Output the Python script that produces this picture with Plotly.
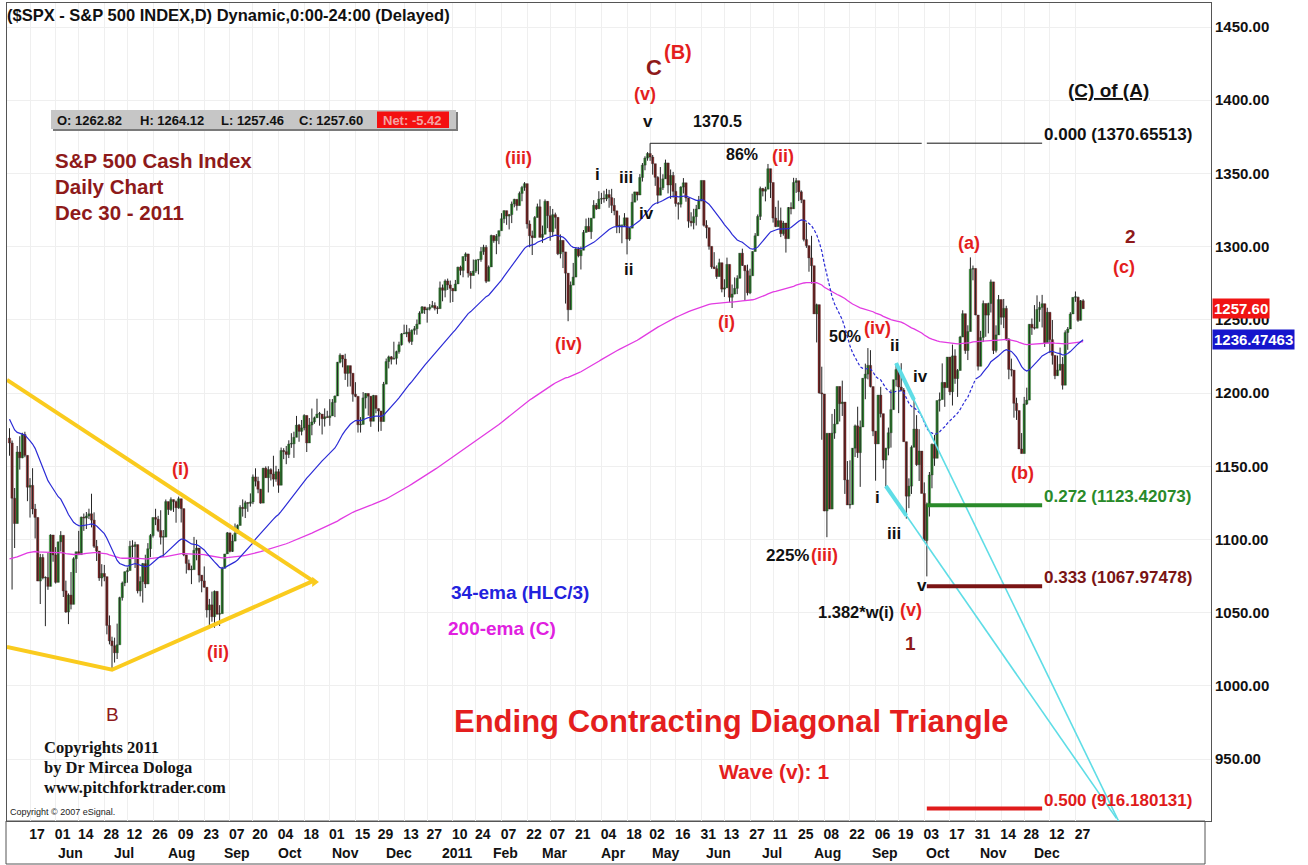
import numpy as np
import pandas as pd
import plotly.graph_objects as go

# ---------------- DATA ----------------
holidays = ["2010-05-31", "2010-07-05", "2010-09-06", "2010-11-25", "2010-12-24",
            "2011-01-17", "2011-02-21", "2011-04-22", "2011-05-30", "2011-07-04",
            "2011-09-05", "2011-11-24", "2011-12-26", "2012-01-02", "2012-01-16"]
start_date = "2010-05-05"
end_date = "2011-12-30"

first_open = 1169.24

closes = [
 # May 2010
 1165.87,1128.15,1110.88,1159.73,1155.79,1171.67,1157.44,1135.68,1136.94,1120.80,1115.05,1071.59,1087.69,1073.65,1074.03,1067.95,1103.06,1089.41,
 # Jun 2010
 1070.71,1098.38,1102.83,1064.88,1050.47,1062.00,1055.69,1086.84,1091.60,1089.63,1115.23,1114.61,1116.04,1117.51,1113.20,1095.31,1092.04,1073.69,1076.76,1074.57,1041.24,1030.71,
 # Jul 2010
 1027.37,1022.58,1028.06,1060.27,1070.25,1077.96,1078.75,1095.34,1095.17,1096.48,1064.88,1071.25,1083.48,1069.59,1093.67,1102.66,1115.01,1113.84,1106.13,1101.53,1101.60,
 # Aug 2010
 1125.86,1120.46,1127.24,1125.81,1121.64,1127.79,1121.06,1089.47,1083.61,1079.25,1079.38,1092.54,1094.16,1075.63,1071.69,1067.36,1051.87,1055.33,1047.22,1064.59,1048.92,1049.33,
 # Sep 2010
 1080.29,1090.10,1104.51,1091.84,1098.87,1104.18,1109.55,1121.90,1121.10,1125.07,1124.66,1125.59,1142.71,1139.78,1134.28,1124.83,1148.67,1142.16,1147.70,1144.73,1141.20,
 # Oct 2010
 1146.24,1137.03,1160.75,1159.97,1158.06,1165.15,1165.32,1169.77,1178.10,1173.81,1176.19,1184.71,1165.90,1178.17,1180.26,1183.08,1185.62,1185.64,1182.45,1183.78,1183.26,
 # Nov 2010
 1184.38,1193.57,1197.96,1221.06,1225.85,1223.25,1213.40,1218.71,1213.54,1199.21,1197.75,1178.34,1178.59,1196.69,1199.73,1197.84,1180.73,1198.35,1189.40,1187.76,1180.55,
 # Dec 2010
 1206.07,1221.53,1224.71,1223.12,1223.75,1228.28,1233.00,1240.40,1240.46,1241.59,1235.23,1242.87,1243.91,1247.08,1254.60,1258.84,1256.77,1257.54,1258.51,1259.78,1257.88,1257.64,
 # Jan 2011
 1271.87,1270.20,1276.56,1273.85,1271.50,1269.75,1274.48,1285.96,1283.76,1293.24,1295.02,1281.92,1280.26,1283.35,1290.84,1291.18,1296.63,1299.54,1276.34,1286.12,
 # Feb 2011
 1307.59,1304.03,1307.10,1310.87,1319.05,1324.57,1320.88,1321.87,1329.15,1332.32,1328.01,1336.32,1340.43,1343.01,1315.44,1307.40,1306.10,1319.88,1327.22,
 # Mar 2011
 1306.33,1308.44,1330.97,1321.15,1310.13,1321.82,1320.02,1295.11,1304.28,1296.39,1281.87,1256.88,1273.72,1279.21,1298.38,1293.77,1297.54,1309.66,1313.80,1310.19,1319.44,1328.26,1325.83,
 # Apr 2011
 1332.41,1332.87,1332.63,1335.54,1333.51,1328.17,1324.46,1314.16,1314.41,1314.52,1319.68,1305.14,1312.62,1330.36,1337.38,1335.25,1347.24,1355.66,1360.48,1363.61,
 # May 2011
 1361.22,1356.62,1347.32,1335.10,1340.20,1346.29,1357.16,1342.08,1348.65,1337.77,1329.47,1328.98,1340.68,1343.60,1333.27,1317.37,1316.28,1320.47,1325.69,1331.10,1345.20,
 # Jun 2011
 1314.55,1312.94,1300.16,1286.17,1284.94,1279.56,1289.00,1270.98,1271.83,1287.87,1265.42,1267.64,1271.50,1278.36,1295.52,1287.14,1283.50,1268.45,1280.10,1296.67,1307.41,1320.64,
 # Jul 2011
 1339.67,1337.88,1339.22,1353.22,1343.80,1319.49,1313.64,1317.72,1308.87,1316.14,1305.44,1326.73,1325.84,1343.80,1345.02,1337.43,1331.94,1304.89,1300.67,1292.28,
 # Aug 2011
 1286.94,1254.05,1260.34,1200.07,1199.38,1119.46,1172.53,1120.76,1172.64,1178.81,1204.49,1192.76,1193.89,1140.65,1123.53,1123.82,1162.35,1177.60,1159.27,1176.80,1210.08,1212.92,1218.89,
 # Sep 2011
 1204.42,1173.97,1165.24,1198.62,1185.90,1154.23,1162.27,1172.87,1188.68,1209.11,1216.01,1204.09,1202.09,1166.76,1129.56,1136.43,1162.95,1175.38,1151.06,1160.40,1131.42,
 # Oct 2011
 1099.23,1123.95,1144.03,1164.97,1155.46,1194.89,1195.54,1207.25,1203.66,1224.58,1200.86,1225.38,1209.88,1215.39,1238.25,1254.19,1229.05,1242.00,1284.59,1285.09,1253.30,
 # Nov 2011
 1218.28,1237.90,1261.15,1253.23,1261.12,1275.92,1229.10,1239.69,1263.85,1251.78,1257.81,1236.91,1216.13,1215.65,1192.98,1188.04,1161.79,1158.67,1192.55,1195.19,1246.96,
 # Dec 2011
 1244.58,1244.28,1257.08,1258.47,1261.01,1234.35,1255.19,1236.47,1225.73,1211.82,1215.75,1219.66,1205.35,1241.30,1243.72,1254.00,1265.33,1265.43,1249.64,1263.02,1257.60,
]

highs = [
 1175.95,1167.58,1135.13,1163.85,1170.48,1172.87,1173.57,1157.19,1141.88,1148.66,1124.27,1107.34,1090.16,1089.95,1074.75,1090.75,1103.52,1102.56,
 1094.77,1098.43,1105.67,1102.83,1071.86,1063.15,1077.74,1087.85,1091.60,1105.87,1115.59,1117.72,1118.74,1121.01,1131.23,1118.50,1099.64,1088.16,1083.11,1082.60,1071.75,1048.08,
 1033.58,1032.94,1042.50,1060.89,1071.25,1078.16,1080.78,1099.08,1099.46,1098.43,1095.06,1074.70,1083.94,1089.57,1097.50,1103.73,1115.01,1120.95,1116.11,1119.95,1106.44,
 1127.30,1125.44,1128.75,1126.56,1126.56,1129.24,1127.16,1114.63,1086.72,1086.25,1082.14,1101.73,1099.77,1092.75,1075.63,1081.58,1067.36,1059.38,1064.38,1065.15,1064.29,1055.14,
 1081.30,1090.10,1105.10,1102.60,1103.26,1110.88,1110.27,1123.35,1127.36,1126.46,1125.44,1131.47,1144.38,1148.59,1142.83,1134.56,1148.90,1149.92,1150.00,1148.63,1157.16,
 1150.30,1148.16,1162.76,1162.33,1163.87,1167.73,1172.58,1173.59,1184.38,1178.89,1181.60,1185.53,1178.64,1182.94,1189.43,1183.93,1196.14,1187.11,1183.80,1189.53,1187.88,
 1195.81,1195.88,1198.30,1221.25,1227.08,1224.57,1226.84,1218.75,1215.45,1212.99,1207.43,1197.75,1183.56,1200.65,1199.97,1198.94,1197.84,1198.74,1198.35,1189.40,1187.40,
 1207.61,1223.58,1225.57,1225.31,1235.05,1228.93,1235.06,1240.95,1246.73,1246.59,1244.25,1243.48,1245.81,1250.23,1255.82,1259.39,1258.59,1258.59,1260.77,1262.90,1261.93,1259.30,
 1276.17,1274.12,1277.63,1278.17,1276.83,1271.52,1277.25,1286.27,1286.99,1293.24,1296.06,1294.60,1283.32,1291.21,1291.26,1291.26,1299.74,1301.29,1301.02,1287.17,
 1308.15,1307.61,1308.60,1311.00,1322.85,1324.87,1324.57,1322.35,1330.79,1332.67,1330.58,1337.61,1341.50,1344.07,1338.91,1317.91,1310.91,1320.91,1329.38,
 1332.28,1314.39,1332.28,1331.08,1327.68,1325.74,1323.21,1315.72,1308.35,1301.33,1288.88,1280.91,1276.19,1288.88,1299.58,1299.58,1300.00,1311.34,1319.18,1319.74,1319.45,1331.74,1329.77,
 1337.85,1336.74,1338.21,1339.46,1338.80,1339.46,1333.16,1321.41,1321.35,1314.55,1322.88,1319.68,1312.70,1336.14,1337.49,1337.38,1349.55,1357.10,1361.71,1364.56,
 1370.58,1362.59,1355.66,1348.09,1354.36,1349.44,1359.44,1354.64,1352.67,1351.05,1343.33,1330.42,1341.30,1346.82,1342.00,1333.06,1323.48,1325.86,1328.51,1334.62,1345.20,
 1345.20,1318.03,1312.94,1300.16,1296.22,1287.21,1291.75,1289.00,1277.72,1292.50,1287.87,1274.11,1279.00,1280.42,1295.52,1298.61,1286.73,1287.72,1284.93,1296.80,1309.21,1321.97,
 1341.01,1340.12,1340.89,1356.48,1353.22,1343.31,1327.16,1331.48,1326.68,1317.57,1315.74,1327.04,1330.24,1347.00,1346.91,1344.32,1338.44,1330.77,1316.32,1300.17,
 1307.38,1286.56,1261.04,1260.34,1218.00,1199.38,1172.53,1172.64,1185.76,1189.04,1204.49,1204.49,1208.47,1193.89,1153.54,1154.06,1162.35,1178.47,1190.68,1181.23,1210.28,1220.10,1230.71,
 1229.29,1203.85,1173.97,1198.62,1204.23,1185.90,1162.59,1176.41,1202.38,1209.11,1220.06,1213.46,1220.39,1203.44,1166.76,1141.72,1164.19,1195.86,1184.90,1175.31,1160.40,
 1138.99,1125.19,1146.07,1165.55,1171.40,1194.91,1200.36,1220.25,1207.46,1224.61,1224.58,1233.10,1229.88,1216.44,1239.03,1256.55,1254.19,1246.28,1292.66,1287.08,1284.96,
 1253.21,1242.48,1263.21,1261.10,1261.70,1277.55,1275.92,1246.22,1266.98,1263.85,1264.25,1259.61,1237.39,1223.51,1215.62,1196.81,1187.48,1172.66,1197.35,1203.67,1247.11,
 1250.91,1260.08,1266.73,1262.34,1267.06,1260.87,1258.25,1255.10,1249.86,1225.73,1225.60,1231.04,1224.57,1242.82,1245.09,1255.22,1265.42,1269.37,1265.85,1263.54,1264.12,
]

lows = [
 1157.19,1065.79,1094.15,1122.27,1147.71,1155.43,1156.14,1126.14,1114.96,1117.20,1100.66,1071.58,1055.90,1072.70,1040.78,1065.59,1069.78,1084.78,
 1069.89,1072.03,1091.81,1060.70,1049.86,1042.17,1052.25,1058.24,1077.12,1089.30,1089.63,1105.87,1107.13,1113.93,1108.24,1094.18,1085.31,1071.72,1067.89,1071.45,1035.18,1028.33,
 1010.91,1015.93,1018.35,1028.17,1058.24,1068.10,1070.45,1080.53,1087.68,1080.53,1063.15,1061.11,1056.88,1066.80,1071.58,1087.88,1101.30,1109.78,1105.01,1096.55,1088.01,
 1101.60,1116.76,1119.46,1118.81,1111.43,1120.91,1111.58,1088.56,1076.69,1079.00,1069.49,1079.38,1085.76,1070.66,1063.91,1067.08,1046.68,1039.83,1043.81,1039.70,1048.79,1040.88,
 1049.72,1080.39,1091.17,1091.15,1091.46,1103.92,1103.92,1109.70,1115.58,1114.63,1118.88,1122.43,1124.14,1136.22,1131.58,1124.42,1129.66,1142.00,1132.09,1140.26,1136.08,
 1139.42,1131.87,1140.68,1154.85,1151.41,1155.58,1162.56,1155.71,1171.32,1166.71,1171.11,1174.55,1159.71,1166.74,1171.17,1178.99,1184.74,1177.72,1171.70,1177.10,1183.26,
 1177.65,1187.86,1183.56,1200.14,1220.29,1217.55,1208.94,1204.33,1204.49,1194.08,1197.15,1173.00,1173.00,1178.59,1189.44,1184.58,1176.91,1180.73,1186.17,1173.64,1174.14,
 1187.76,1206.07,1216.82,1219.53,1223.25,1219.50,1226.84,1232.43,1240.34,1238.17,1234.01,1232.85,1239.87,1239.81,1247.81,1254.19,1254.05,1248.06,1256.42,1259.78,1256.45,1254.06,
 1257.62,1262.66,1265.36,1270.43,1261.70,1262.18,1269.62,1274.48,1280.47,1279.07,1290.16,1278.92,1271.26,1280.74,1282.06,1281.07,1289.64,1294.41,1275.10,1276.62,
 1286.12,1302.62,1294.83,1301.67,1311.00,1316.03,1314.89,1311.74,1316.08,1326.85,1324.61,1328.01,1331.00,1338.12,1312.33,1299.55,1294.26,1307.34,1320.91,
 1306.33,1302.58,1312.75,1312.59,1303.99,1306.86,1312.27,1294.21,1291.99,1285.37,1261.12,1249.05,1257.81,1273.72,1280.40,1292.70,1284.38,1297.74,1310.15,1310.19,1305.26,1321.89,1325.03,
 1328.89,1329.10,1330.03,1331.09,1326.56,1322.94,1321.41,1309.19,1309.19,1302.30,1313.68,1294.70,1303.97,1313.35,1332.03,1331.47,1336.15,1344.44,1352.15,1358.69,
 1358.59,1349.16,1341.50,1329.17,1335.58,1338.64,1348.00,1336.36,1332.66,1333.49,1327.32,1318.51,1326.73,1336.32,1330.67,1312.88,1313.81,1311.80,1314.41,1325.69,1331.10,
 1313.71,1305.61,1297.90,1284.89,1284.74,1277.97,1279.56,1268.76,1265.64,1272.21,1261.90,1258.07,1267.40,1267.56,1278.36,1286.79,1262.87,1266.68,1267.53,1280.10,1296.67,1307.61,
 1318.18,1334.30,1330.92,1342.96,1333.20,1316.42,1313.33,1314.99,1306.51,1307.48,1295.92,1307.66,1322.05,1325.84,1336.68,1331.09,1329.71,1303.60,1299.16,1282.86,
 1274.73,1254.03,1234.56,1199.54,1168.09,1119.28,1101.54,1120.76,1121.46,1168.74,1178.86,1180.53,1184.36,1131.09,1123.53,1121.09,1123.82,1156.30,1155.71,1135.91,1179.16,1195.77,1209.35,
 1203.85,1170.56,1140.13,1165.24,1183.34,1148.37,1136.07,1157.44,1162.73,1189.12,1204.46,1186.28,1201.19,1166.69,1114.22,1121.36,1131.07,1163.32,1150.26,1139.93,1131.42,
 1098.92,1074.77,1115.68,1134.95,1150.26,1158.15,1187.36,1196.71,1190.58,1212.06,1198.55,1191.48,1206.31,1197.35,1215.39,1238.43,1226.79,1222.53,1243.20,1277.01,1253.16,
 1215.42,1219.62,1234.81,1238.41,1240.75,1254.99,1226.64,1227.70,1239.70,1246.68,1244.34,1235.67,1209.43,1211.36,1183.16,1181.65,1161.79,1158.66,1158.67,1191.80,1196.72,
 1239.73,1243.35,1244.28,1248.68,1244.80,1231.47,1234.35,1227.25,1219.43,1209.47,1212.09,1215.20,1202.37,1205.35,1229.51,1243.72,1254.00,1262.30,1248.64,1249.64,1257.46,
]

ema34_seed = 1183.0     # value of the 34-ema (HLC/3) entering the window
ema200_seed = 1086.0    # value of the 200-ema (C) entering the window
ema34_dotted_span = ("2011-07-27", "2011-11-01")   # stretch drawn dotted in the reference

tick_dates = ["2010-05-17","2010-06-01","2010-06-14","2010-06-28","2010-07-12","2010-07-26","2010-08-09",
              "2010-08-23","2010-09-07","2010-09-20","2010-10-04","2010-10-18","2010-11-01","2010-11-15",
              "2010-11-29","2010-12-13","2010-12-27","2011-01-10","2011-01-24","2011-02-07","2011-02-22",
              "2011-03-07","2011-03-21","2011-04-04","2011-04-18","2011-05-02","2011-05-16","2011-05-31",
              "2011-06-13","2011-06-27","2011-07-11","2011-07-25","2011-08-08","2011-08-22","2011-09-06",
              "2011-09-19","2011-10-03","2011-10-17","2011-10-31","2011-11-14","2011-11-28","2011-12-12",
              "2011-12-27"]
tick_labels = ["17","01","14","28","12","26","09","23","07","20","04","18","01","15","29","13","27",
               "10","24","07","22","07","21","04","18","02","16","31","13","27","11","25","08","22",
               "06","19","03","17","31","14","28","12","27"]

month_dates = ["2010-06-01","2010-07-01","2010-08-02","2010-09-01","2010-10-01","2010-11-01","2010-12-01",
               "2011-01-03","2011-02-01","2011-03-01","2011-04-01","2011-05-02","2011-06-01","2011-07-01",
               "2011-08-01","2011-09-01","2011-10-03","2011-11-01","2011-12-01"]
month_labels = ["Jun","Jul","Aug","Sep","Oct","Nov","Dec","2011","Feb","Mar","Apr","May","Jun","Jul",
                "Aug","Sep","Oct","Nov","Dec"]

price_ticks = [950, 1000, 1050, 1100, 1150, 1200, 1250, 1300, 1350, 1400, 1450]

# Fibonacci extension levels
fib_ratios = ["0.000", "0.272", "0.333", "0.500"]
fib_prices = [1370.65513, 1123.42073, 1067.97478, 916.180131]
fib_texts = ["1370.65513", "1123.42073", "1067.97478", "916.180131"]
fib_colors = ["#111111", "#2A8A2A", "#7A1414", "#E01B1B"]
fib_widths = [1, 4, 4, 4]
fib_start, fib_end = "2011-10-04", "2011-12-07"

peak_date, peak_price, peak_line_end = "2011-05-02", 1370.58, "2011-09-30"

# yellow contracting triangle (B -> (i) -> (ii))
tri_upper_dates, tri_upper_prices = ["2010-05-04", "2010-10-22"], [1209.0, 1071.0]
tri_lower_dates, tri_lower_prices = ["2010-05-04", "2010-07-01", "2010-10-22"], [1026.5, 1011.0, 1072.0]

# cyan ending diagonal boundary lines
cyan_lower_dates, cyan_lower_prices = ["2011-09-12", "2012-01-20"], [1136.5, 909.5]
cyan_upper_dates, cyan_upper_prices = ["2011-09-16", "2012-01-23"], [1220.5, 907.0]
cyan_lower_thick_end, cyan_upper_thick_end = "2011-09-22", "2011-09-27"

# ---------------- HELPERS ----------------
def xi(d):
    return int(np.busday_count(start_date, d, holidays=holidays))

n = len(closes)
assert len(highs) == n and len(lows) == n
dates = pd.bdate_range(start_date, end_date, freq="C", holidays=holidays)
assert len(dates) == n, (len(dates), n)

x = list(range(n))
opens = [first_open] + closes[:-1]
hi = [max(h, o, c) for h, o, c in zip(highs, opens, closes)]
lo = [min(l, o, c) for l, o, c in zip(lows, opens, closes)]

def ema(vals, span, seed):
    a = 2.0 / (span + 1)
    out, e = [], seed
    for v in vals:
        e = e + a * (v - e)
        out.append(e)
    return out

hlc3 = [(h + l + c) / 3 for h, l, c in zip(hi, lo, closes)]
ema34 = ema(hlc3, 34, ema34_seed)
ema200 = ema(closes, 200, ema200_seed)

def lerp_line(d0, p0, d1, p1, d):
    x0, x1, xx = xi(d0), xi(d1), xi(d)
    return p0 + (p1 - p0) * (xx - x0) / (x1 - x0)

# pixel helpers for text placement (plot area: x 7..1211, y 3..821)
L, R, T, B = 7, 1211, 3, 821
def px(xp):
    return (xp - L) / (R - L)
def py(yp):
    return (B - yp) / (B - T)

FONT = "Liberation Sans, Arial, sans-serif"
SERIF = "Liberation Serif, Times New Roman, serif"
RED = "#E41E1E"
DRED = "#8E1A1A"
BLK = "#111111"
GREEN_BODY = "#2DB12D"
RED_BODY = "#A81E1E"
WICK = "#262626"

fig = go.Figure()

# --- candles: wicks then bodies
wx, wy = [], []
for i in x:
    wx += [i, i, None]
    wy += [lo[i], hi[i], None]
fig.add_trace(go.Scatter(x=wx, y=wy, mode="lines", line=dict(color=WICK, width=1),
                         hoverinfo="skip", connectgaps=False))
for up, col in [(True, GREEN_BODY), (False, RED_BODY)]:
    idx = [i for i in x if (closes[i] >= opens[i]) == up]
    base = [min(opens[i], closes[i]) for i in idx]
    hgt = [max(abs(closes[i] - opens[i]), 0.5) for i in idx]
    fig.add_trace(go.Bar(x=idx, y=hgt, base=base, width=0.95,
                         marker=dict(color=col, line=dict(color="#303030", width=0.35)),
                         hoverinfo="skip"))

# --- moving averages
fig.add_trace(go.Scatter(x=x, y=ema200, mode="lines",
                         line=dict(color="#E23BE2", width=1.3), hoverinfo="skip"))
d0, d1 = xi(ema34_dotted_span[0]), xi(ema34_dotted_span[1])
fig.add_trace(go.Scatter(x=x[:d0 + 1], y=ema34[:d0 + 1], mode="lines",
                         line=dict(color="#2B2BD6", width=1.2), hoverinfo="skip"))
fig.add_trace(go.Scatter(x=x[d0:d1 + 1], y=ema34[d0:d1 + 1], mode="lines",
                         line=dict(color="#2B2BD6", width=1.2, dash="3px,2px"), hoverinfo="skip"))
fig.add_trace(go.Scatter(x=x[d1:], y=ema34[d1:], mode="lines",
                         line=dict(color="#2B2BD6", width=1.2), hoverinfo="skip"))

# --- yellow triangle
fig.add_trace(go.Scatter(x=[xi(d) for d in tri_upper_dates], y=tri_upper_prices, mode="lines",
                         line=dict(color="#FACB1E", width=4), hoverinfo="skip"))
fig.add_trace(go.Scatter(x=[xi(d) for d in tri_lower_dates], y=tri_lower_prices, mode="lines",
                         line=dict(color="#FACB1E", width=4), hoverinfo="skip"))
fig.add_trace(go.Scatter(x=[xi(tri_upper_dates[-1])], y=[tri_upper_prices[-1]], mode="markers",
                         marker=dict(symbol="triangle-right", color="#FACB1E", size=9), hoverinfo="skip"))

# --- cyan lines
for dts, prs, thick_end in [(cyan_lower_dates, cyan_lower_prices, cyan_lower_thick_end),
                            (cyan_upper_dates, cyan_upper_prices, cyan_upper_thick_end)]:
    fig.add_trace(go.Scatter(x=[xi(d) for d in dts], y=prs, mode="lines",
                             line=dict(color="#5FDDE6", width=1.6), hoverinfo="skip"))
    fig.add_trace(go.Scatter(x=[xi(dts[0]), xi(thick_end)],
                             y=[prs[0], lerp_line(dts[0], prs[0], dts[1], prs[1], thick_end)],
                             mode="lines", line=dict(color="#5FDDE6", width=4), hoverinfo="skip"))

# --- 1370.5 peak line and Fibonacci levels
fig.add_trace(go.Scatter(x=[xi(peak_date), xi(peak_line_end)], y=[peak_price, peak_price], mode="lines",
                         line=dict(color="#222222", width=1), hoverinfo="skip"))
for r, p, c, w in zip(fib_ratios, fib_prices, fib_colors, fib_widths):
    fig.add_trace(go.Scatter(x=[xi(fib_start), xi(fib_end)], y=[p, p], mode="lines",
                             line=dict(color=c, width=w), hoverinfo="skip"))

ann = []
def T_(text, xp, yp, color=BLK, size=16, family=FONT, xanchor="center", bold=True):
    ann.append(dict(text=("<b>%s</b>" % text) if bold else text, xref="paper", yref="paper",
                    x=px(xp), y=py(yp), xanchor=xanchor, yanchor="middle", showarrow=False,
                    font=dict(color=color, size=size, family=family)))

# fib labels
for r, p, t, c in zip(fib_ratios, fib_prices, fib_texts, fib_colors):
    ann.append(dict(text="<b>%s (%s)</b>" % (r, t),
                    xref="x", yref="y", x=xi(fib_end), y=p, xanchor="left", yanchor="bottom",
                    xshift=0, yshift=-3, showarrow=False, font=dict(color=c, size=17, family=FONT)))

# header & info
T_("($SPX - S&P 500 INDEX,D) Dynamic,0:00-24:00 (Delayed)", 5, 15, BLK, 16.5, xanchor="left")
T_("O: 1262.82", 89, 120, BLK, 13)
T_("H: 1264.12", 172, 120, BLK, 13)
T_("L: 1257.46", 252, 120, BLK, 13)
T_("C: 1257.60", 331, 120, BLK, 13)
T_("Net: -5.42", 412, 120, "#F3A3A3", 13)
T_("S&P 500 Cash Index", 53, 160, DRED, 20.5, xanchor="left")
T_("Daily Chart", 53, 186, DRED, 20.5, xanchor="left")
T_("Dec 30 - 2011", 53, 212, DRED, 20.5, xanchor="left")

# wave labels
T_("(B)", 678, 52, RED, 20)
T_("C", 654, 68, DRED, 22)
T_("(v)", 645, 94, RED, 18)
T_("v", 648, 122, BLK, 17)
T_("1370.5", 717, 122, BLK, 16)
T_("86%", 742, 155, BLK, 16)
T_("(ii)", 783, 156, RED, 18)
T_("(iii)", 518, 158, RED, 18)
T_("i", 597, 175, BLK, 17)
T_("iii", 626, 178, BLK, 17)
T_("iv", 646, 213, BLK, 17)
T_("ii", 628, 269, BLK, 17)
T_("(i)", 726, 322, RED, 18)
T_("(iv)", 568, 344, RED, 18)
T_("(i)", 180, 469, RED, 18)
T_("(ii)", 218, 652, RED, 18)
T_("B", 112, 714, DRED, 19, bold=False)
T_("50%", 845, 336, BLK, 16)
T_("(iv)", 877, 328, RED, 18)
T_("ii", 895, 345, BLK, 17)
T_("iv", 920, 376, BLK, 17)
T_("i", 877, 497, BLK, 17)
T_("iii", 894, 533, BLK, 17)
T_("225%", 787, 556, BLK, 17)
T_("(iii)", 824, 555, RED, 18)
T_("v", 922, 585, BLK, 17)
T_("1.382*w(i)", 856, 612, BLK, 16.5)
T_("(v)", 911, 610, RED, 18)
T_("1", 910, 643, DRED, 19)
T_("(a)", 969, 243, RED, 18)
T_("(b)", 1022, 473, RED, 18)
T_("2", 1130, 236, DRED, 19)
T_("(c)", 1124, 267, RED, 18)
T_("<u>(C) of (A)</u>", 1108, 90, BLK, 19)

T_("34-ema (HLC/3)", 520, 592, "#2222DD", 19)
T_("200-ema (C)", 502, 628, "#E020E0", 19)
T_("Ending Contracting Diagonal Triangle", 731, 721, "#E41E1E", 31)
T_("Wave (v): 1", 774, 771, "#E41E1E", 21)

T_("Copyrights 2011", 42, 747, "#151515", 16.5, SERIF, xanchor="left")
T_("by Dr Mircea Dologa", 42, 767, "#151515", 16.5, SERIF, xanchor="left")
T_("www.pitchforktrader.com", 42, 787, "#151515", 16.5, SERIF, xanchor="left")
T_("Copyright © 2007 eSignal.", 8, 812, "#222222", 9, xanchor="left", bold=False)

# month labels
for d, lab in zip(month_dates, month_labels):
    ann.append(dict(text="<b>%s</b>" % lab, xref="x", yref="paper", x=xi(d), y=py(853),
                    xanchor="left", yanchor="middle", showarrow=False,
                    font=dict(size=14, color=BLK, family=FONT)))

# right-axis value flags
ann.append(dict(text="<b>%.2f</b>" % closes[-1], xref="paper", yref="y", x=1, y=closes[-1], xanchor="left",
                yanchor="middle", xshift=1, showarrow=False, bgcolor="#F01414", borderpad=1,
                font=dict(size=15, color="white", family=FONT)))
ann.append(dict(text="<b>1236.47463</b>", xref="paper", yref="y", x=1, y=1236.47463, xanchor="left",
                yanchor="middle", xshift=1, showarrow=False, bgcolor="#1515CC", borderpad=1,
                font=dict(size=15, color="white", family=FONT)))

shapes = []
def rect(x0, y0, x1, y1, fill=None, line=None, lw=1, layer="above"):
    shapes.append(dict(type="rect", xref="paper", yref="paper", x0=px(x0), x1=px(x1), y0=py(y0), y1=py(y1),
                       fillcolor=fill or "rgba(0,0,0,0)", line=dict(color=line or "rgba(0,0,0,0)", width=lw),
                       layer=layer))
# info box with shadow
rect(53, 112, 458, 131, fill="#7A7A7A")
rect(51, 110, 456, 129, fill="#C6C6C6")
rect(377, 111.5, 449, 128, fill="#F41010")
# bottom axis frame
rect(6, 821, 1205, 864, line="#555555", lw=1, layer="below")

fig.update_layout(annotations=ann, shapes=shapes)

fig.update_layout(
    width=1308, height=865,
    margin=dict(l=L, r=1308 - R, t=T, b=865 - B, autoexpand=False),
    paper_bgcolor="white", plot_bgcolor="white", showlegend=False,
    barmode="overlay",
    xaxis=dict(range=[-0.98, 468.9], tickmode="array",
               tickvals=[xi(d) for d in tick_dates], ticktext=tick_labels,
               ticklabelshift=7, ticks="", showline=True, mirror=True, linecolor="#555555",
               showgrid=True, gridcolor="#EFEFEF", zeroline=False,
               tickfont=dict(size=14, color=BLK, family=FONT, weight="bold"), fixedrange=True),
    yaxis=dict(range=[907.7, 1466.4], side="right", tickmode="array",
               tickvals=price_ticks, ticktext=["%.2f" % v for v in price_ticks],
               ticks="", showline=True, mirror=True, linecolor="#555555",
               showgrid=True, gridcolor="#EFEFEF", zeroline=False,
               tickfont=dict(size=15, color=BLK, family=FONT, weight="bold"), fixedrange=True),
)

fig.write_html("out.html", config={"displayModeBar": False},
               post_script="document.body.style.margin='0px';document.body.style.overflow='hidden';")
